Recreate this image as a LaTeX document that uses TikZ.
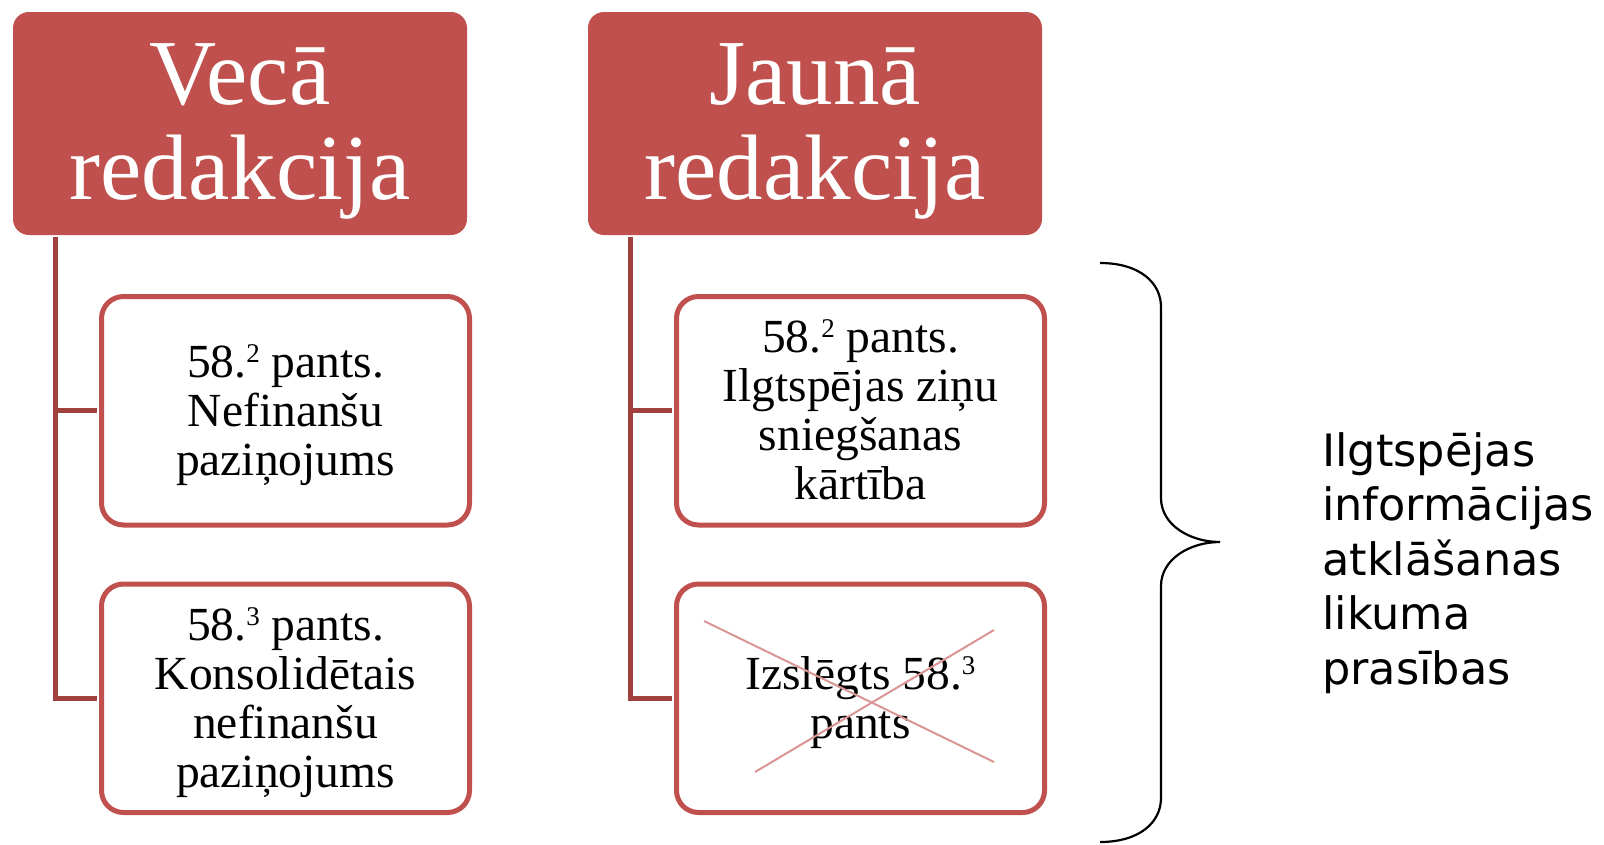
\documentclass[tikz,border=0pt]{standalone}
\usepackage{fontspec}
\setmainfont{Liberation Serif}
\newfontfamily\sansf{DejaVu Sans}
\definecolor{accent}{HTML}{C0504D}
\definecolor{conncol}{HTML}{A0413F}
\definecolor{crosscol}{HTML}{D99694}
\newcommand\supnum[1]{\raisebox{15pt}{\fontsize{27}{27}\selectfont #1}}
\newcommand\topstr{\rule{0pt}{42pt}}
\newcommand\botstr{\rule[-11.5pt]{0pt}{11.5pt}}
\begin{document}
\begin{tikzpicture}[x=1pt,y=1pt,
  headbox/.style={fill=accent, rounded corners=16pt, minimum width=454pt, minimum height=223pt, inner sep=0pt},
  headtext/.style={text=white, font=\fontsize{93}{95}\selectfont, align=center, inner sep=0pt},
  itembox/.style={draw=accent, line width=5pt, fill=white, rounded corners=22pt, minimum width=368pt, minimum height=228.5pt, align=center, inner sep=0pt, font=\fontsize{47.5}{49}\selectfont},
  conn/.style={draw=conncol, line width=5pt, shorten >=2.5pt},
  crossline/.style={draw=crosscol, line width=2pt},
  bracepath/.style={draw=black, line width=2.2pt},
  sidetext/.style={font=\sansf\fontsize{44.6}{54.5}\selectfont, align=left, inner sep=0pt, anchor=west}]
\useasboundingbox (0,0) rectangle (1604,-844);
% headers
\node[headbox] (h1) at (240,-123.5) {};
\node[headtext] (h1t) at (240,-131.7) {Vecā\\redakcija};
\node[headbox] (h2) at (815,-123.5) {};
\node[headtext] (h2t) at (815,-131.7) {Jaunā\\redakcija};
% boxes
\node[itembox] (b1) at (285.5,-410.75) {\topstr 58.\supnum{2} pants.\\Nefinanšu\\paziņojums\botstr};
\node[itembox] (b2) at (285.5,-698.25) {\topstr 58.\supnum{3} pants.\\Konsolidētais\\nefinanšu\\paziņojums\botstr};
\node[itembox] (b3) at (860.5,-410.75) {\topstr 58.\supnum{2} pants.\\Ilgtspējas ziņu\\sniegšanas\\kārtība\botstr};
\node[itembox] (b4) at (860.5,-698.25) {\topstr Izslēgts 58.\supnum{3}\\pants\botstr};
% connectors
\draw[conn] ([xshift=42.5pt,yshift=-2pt]h1.south west) |- (b1.west);
\draw[conn] ([xshift=42.5pt,yshift=-2pt]h1.south west) |- (b2.west);
\draw[conn] ([xshift=42.5pt,yshift=-2pt]h2.south west) |- (b3.west);
\draw[conn] ([xshift=42.5pt,yshift=-2pt]h2.south west) |- (b4.west);
% cross over removed article
\draw[crossline] ([shift={(-156.5,77.25)}]b4.center) -- ([shift={(133.5,-63.75)}]b4.center);
\draw[crossline] ([shift={(-105.5,-73.75)}]b4.center) -- ([shift={(133.5,68.25)}]b4.center);
% brace
\draw[bracepath] (1100,-263) .. controls (1140,-263) and (1161,-283) .. (1161,-307)
  -- (1161,-498) .. controls (1161,-525) and (1190,-542) .. (1220,-542)
  .. controls (1190,-542) and (1161,-559) .. (1161,-586)
  -- (1161,-798) .. controls (1161,-822) and (1140,-842) .. (1100,-842);
% side text
\node[sidetext] (req) at (1322,-563) {Ilgtspējas\\informācijas\\atklāšanas\\likuma\\prasības};
\end{tikzpicture}
\end{document}
